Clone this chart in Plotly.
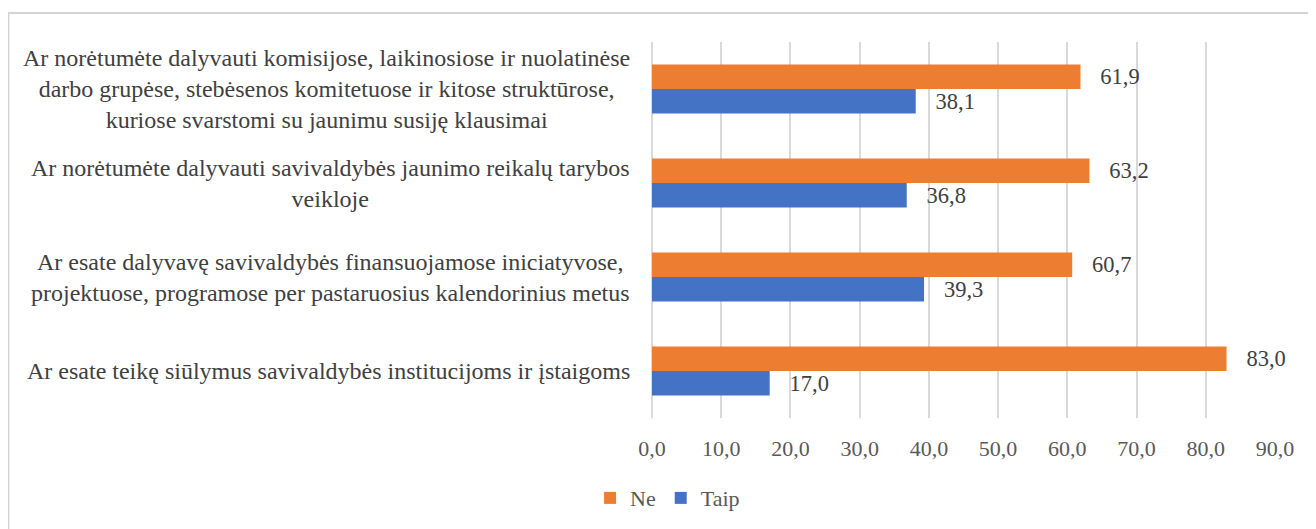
import plotly.graph_objects as go

# klausimai (iš viršaus į apačią)
klausimai = [
    "Ar norėtumėte dalyvauti komisijose, laikinosiose ir nuolatinėse<br>darbo grupėse, stebėsenos komitetuose ir kitose struktūrose,<br>kuriose svarstomi su jaunimu susiję klausimai",
    "Ar norėtumėte dalyvauti savivaldybės jaunimo reikalų tarybos<br>veikloje",
    "Ar esate dalyvavę savivaldybės finansuojamose iniciatyvose,<br>projektuose, programose per pastaruosius kalendorinius metus",
    "Ar esate teikę siūlymus savivaldybės institucijoms ir įstaigoms",
]
ne = [61.9, 63.2, 60.7, 83.0]
taip = [38.1, 36.8, 39.3, 17.0]
x_ticks = [0, 10, 20, 30, 40, 50, 60, 70, 80, 90]

font = "Liberation Serif, Times New Roman, serif"
pad = "\u00a0\u00a0\u00a0"

fig = go.Figure()
fig.add_trace(go.Bar(
    name="Ne", y=klausimai, x=ne, orientation="h",
    marker=dict(color="#ED7D31", line=dict(width=0)),
    texttemplate=pad + "%{x:.1f}", textposition="outside",
    textfont=dict(size=23, color="#404040", family=font),
    cliponaxis=False))
fig.add_trace(go.Bar(
    name="Taip", y=klausimai, x=taip, orientation="h",
    marker=dict(color="#4472C4", line=dict(width=0)),
    texttemplate=pad + "%{x:.1f}", textposition="outside",
    textfont=dict(size=23, color="#404040", family=font),
    cliponaxis=False))

# klausimų tekstai kaip anotacijos (centruotos eilutės)
for k in klausimai:
    fig.add_annotation(
        x=-0.032, xref="paper", y=k, yref="y",
        text=k, showarrow=False, xanchor="right", align="center",
        font=dict(size=24, color="#404040", family=font))

# puslapio body turi 8px paraštę, todėl viskas pastumta
fig.update_layout(
    width=1316, height=529,
    margin=dict(l=644, r=49, t=34, b=119, autoexpand=False),
    paper_bgcolor="white", plot_bgcolor="white",
    barmode="group", bargap=0.48, bargroupgap=0,
    separators=",.",
    font=dict(family=font, size=22, color="#595959"),
    legend=dict(orientation="h", x=0.025, xanchor="center",
                y=-0.213, yanchor="middle", font=dict(size=22, color="#595959"),
                itemwidth=30),
    shapes=[dict(type="rect", xref="paper", yref="paper",
                 x0=-1.033, x1=1.2, y0=-0.5, y1=1.077,
                 line=dict(color="#d4d4d4", width=2), layer="below")],
)
fig.update_xaxes(range=[0, 90], tickvals=x_ticks, tickformat=".1f",
                 showgrid=True, gridcolor="#d9d9d9", gridwidth=2,
                 zeroline=True, zerolinecolor="#d9d9d9", zerolinewidth=2,
                 ticks="outside", ticklen=11, tickcolor="rgba(0,0,0,0)",
                 tickfont=dict(size=22, color="#595959"))
fig.update_yaxes(autorange="reversed", showticklabels=False, showgrid=False,
                 zeroline=False, showline=False)

fig.write_html("out.html")
